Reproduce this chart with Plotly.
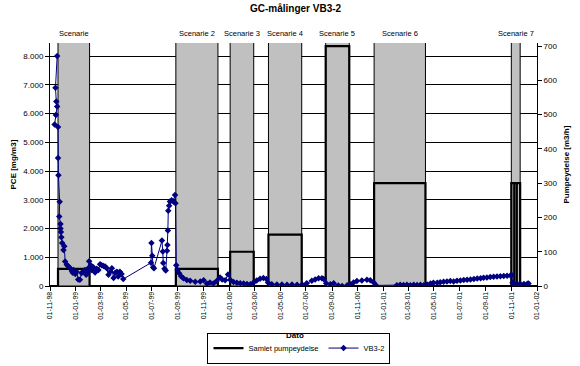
import plotly.graph_objects as go
import pandas as pd

# ---------------- data ----------------
vb_dates = [
    "1998-11-18", "1998-11-14", "1998-11-16", "1998-11-18", "1998-11-15", "1998-11-12",
    "1998-11-20", "1998-11-20", "1998-11-21", "1998-11-24", "1998-11-23", "1998-11-26",
    "1998-11-26", "1998-11-27", "1998-11-28", "1998-11-30", "1998-12-03", "1998-12-05",
    "1998-12-07", "1998-12-11", "1998-12-15", "1998-12-19", "1998-12-23", "1998-12-25",
    "1998-12-27", "1998-12-31", "1999-01-03", "1999-01-07", "1999-01-11", "1999-01-15",
    "1999-01-19", "1999-01-23", "1999-01-26", "1999-01-29", "1999-01-31", "1999-02-02",
    "1999-02-06", "1999-02-08", "1999-02-12", "1999-02-16", "1999-02-20", "1999-02-24",
    "1999-02-28", "1999-03-04", "1999-03-08", "1999-03-12", "1999-03-16", "1999-03-20",
    "1999-03-24", "1999-03-28", "1999-04-01", "1999-04-05", "1999-04-09", "1999-04-12",
    "1999-04-16", "1999-04-20", "1999-04-24",
    "1999-06-29", "1999-06-30", "1999-07-02", "1999-07-04", "1999-07-06",
    "1999-07-25", "1999-07-27", "1999-07-28", "1999-07-31", "1999-08-03", "1999-08-06",
    "1999-08-07", "1999-08-08", "1999-08-09", "1999-08-11", "1999-08-13", "1999-08-17",
    "1999-08-21", "1999-08-25", "1999-08-26", "1999-08-28", "1999-08-31", "1999-09-04",
    "1999-09-09", "1999-09-14", "1999-09-22", "1999-09-30", "1999-10-12", "1999-10-24",
    "1999-11-01", "1999-11-09", "1999-11-16", "1999-11-24", "1999-12-02", "1999-12-10",
    "1999-12-15", "1999-12-22", "1999-12-29", "2000-01-03", "2000-01-11", "2000-01-19",
    "2000-01-27", "2000-02-04", "2000-02-12", "2000-02-20", "2000-02-27", "2000-03-06",
    "2000-03-14", "2000-03-22", "2000-03-29", "2000-04-02", "2000-04-11", "2000-04-23",
    "2000-05-05", "2000-05-17", "2000-05-29", "2000-06-10", "2000-06-22", "2000-07-03",
    "2000-07-15", "2000-07-23", "2000-07-31", "2000-08-08", "2000-08-12", "2000-08-18",
    "2000-08-28", "2000-09-05", "2000-09-16", "2000-09-25", "2000-10-07", "2000-10-14",
    "2000-10-22", "2000-10-30", "2000-11-11", "2000-11-23", "2000-12-01", "2000-12-09",
    "2000-12-15", "2001-02-02", "2001-02-10", "2001-02-18", "2001-02-26", "2001-03-06",
    "2001-03-14", "2001-03-22", "2001-03-30", "2001-04-07", "2001-04-15", "2001-04-23",
    "2001-04-30", "2001-05-09", "2001-05-16", "2001-05-24", "2001-06-01", "2001-06-09",
    "2001-06-17", "2001-06-25", "2001-07-03", "2001-07-11", "2001-07-19", "2001-07-27",
    "2001-08-04", "2001-08-12", "2001-08-20", "2001-08-27", "2001-09-04", "2001-09-12",
    "2001-09-20", "2001-09-28", "2001-10-06", "2001-10-14", "2001-10-22", "2001-10-30",
    "2001-11-02", "2001-11-04", "2001-11-08", "2001-11-15", "2001-11-23", "2001-12-01",
    "2001-12-09", "2001-12-12",
]
vb_values = [
    8000, 6900, 6420, 6250, 5950, 5620,
    5530, 4450, 3850, 2930, 2420, 2160,
    2000, 1880, 1700, 1500, 1250, 1380,
    850, 740, 680, 615, 520, 460,
    560, 420, 500, 230, 220, 450,
    500, 560, 390, 480, 620, 860,
    720, 560, 650, 470, 600, 560,
    760, 720, 700, 680, 620, 390,
    500, 620, 280, 460, 500, 330,
    500, 420, 240,
    810, 1500, 1050, 650, 620,
    1580, 1200, 800, 600, 540, 1230,
    1430, 1930, 2620, 2790, 2940, 2980,
    2940, 3170, 2880, 720, 560, 440,
    330, 270, 210, 180, 150, 160,
    200, 80, 120, 90, 170, 300,
    230, 200, 400, 220, 140, 110,
    100, 90, 70, 60, 110, 190,
    250, 280, 240, 120, 60, 50,
    50, 40, 50, 40, 50, 100,
    180, 230, 270, 270, 240, 100,
    60, 95, 20, 0, 30, 60,
    120, 170, 190, 220, 200, 120,
    20, 30, 40, 35, 40, 30,
    40, 35, 40, 30, 50, 90,
    110, 115, 130, 150, 160, 170,
    160, 185, 190, 210, 215, 230,
    240, 260, 270, 285, 300, 310,
    320, 330, 340, 350, 355, 365,
    380, 110, 80, 70, 65, 70,
    75, 90,
]

scenario_labels = ["Scenarie", "Scenarie 2", "Scenarie 3", "Scenarie 4",
                   "Scenarie 5", "Scenarie 6", "Scenarie 7"]
scenario_start = ["1998-11-20", "1999-08-27", "2000-01-03", "2000-04-03",
                  "2000-08-17", "2000-12-10", "2001-11-01"]
scenario_end = ["1999-02-03", "1999-12-05", "2000-02-28", "2000-06-21",
                "2000-10-12", "2001-04-11", "2001-11-22"]

pump_start = ["1998-11-20", "1999-08-27", "2000-01-03", "2000-04-03",
              "2000-08-17", "2000-12-10", "2001-11-01", "2001-11-08", "2001-11-14"]
pump_end = ["1999-02-03", "1999-12-05", "2000-02-28", "2000-06-21",
            "2000-10-12", "2001-04-11", "2001-11-08", "2001-11-14", "2001-11-22"]
pump_rate = [50, 50, 100, 150, 700, 300, 300, 300, 300]

pce_ticks = [0, 1000, 2000, 3000, 4000, 5000, 6000, 7000, 8000]
pce_ticklabels = ["0", "1.000", "2.000", "3.000", "4.000", "5.000", "6.000", "7.000", "8.000"]
pump_ticks = [0, 100, 200, 300, 400, 500, 600, 700]
date_ticks = ["1998-11-01", "1999-01-01", "1999-03-01", "1999-05-01", "1999-07-01",
              "1999-09-01", "1999-11-01", "2000-01-01", "2000-03-01", "2000-05-01",
              "2000-07-01", "2000-09-01", "2000-11-01", "2001-01-01", "2001-03-01",
              "2001-05-01", "2001-07-01", "2001-09-01", "2001-11-01", "2002-01-01"]
date_ticklabels = ["01-11-98", "01-01-99", "01-03-99", "01-05-99", "01-07-99",
                   "01-09-99", "01-11-99", "01-01-00", "01-03-00", "01-05-00",
                   "01-07-00", "01-09-00", "01-11-00", "01-01-01", "01-03-01",
                   "01-05-01", "01-07-01", "01-09-01", "01-11-01", "01-01-02"]

# ---------------- styling / layout constants ----------------
FONT = "Arial, 'Liberation Sans', sans-serif"
X_RANGE = ["1998-11-01", "2002-01-01"]
PUMP_MAX = 709
PCE_MAX = 8456
GRAY = "#C0C0C0"
NAVY = "#000080"

fig = go.Figure()

# gray scenario bands (on pump axis, extend past top so they are clipped)
band_top = PUMP_MAX * 1.2
for s, e in zip(scenario_start, scenario_end):
    fig.add_trace(go.Scatter(
        x=[s, s, e, e, s], y=[0, band_top, band_top, 0, 0],
        mode="lines", fill="toself", fillcolor=GRAY,
        line=dict(color="black", width=1), yaxis="y",
        showlegend=False, hoverinfo="skip"))

# step line for total pump output
px, py = [X_RANGE[0]], [0]
for s, e, r in zip(pump_start, pump_end, pump_rate):
    px += [s, s, e, e]
    py += [0, r, r, 0]
px.append(X_RANGE[1])
py.append(0)
fig.add_trace(go.Scatter(
    x=px, y=py, mode="lines", name="Samlet pumpeydelse",
    line=dict(color="black", width=2.2), yaxis="y"))

fig.add_trace(go.Scatter(
    x=vb_dates, y=vb_values, mode="lines+markers", name="VB3-2",
    line=dict(color=NAVY, width=1),
    marker=dict(symbol="diamond", size=5, color=NAVY), yaxis="y2"))

# scenario labels
annotations = []
for lab, s, e in zip(scenario_labels, scenario_start, scenario_end):
    ts, te = pd.Timestamp(s), pd.Timestamp(e)
    mid = ts + (te - ts) / 2
    annotations.append(dict(
        x=mid.strftime("%Y-%m-%d %H:%M"), xref="x", y=1.041, yref="paper",
        text=lab, showarrow=False, font=dict(family=FONT, size=7.5, color="black"),
        xanchor="center", yanchor="middle"))

annotations += [
    dict(x=0.505, y=1.142, xref="paper", yref="paper", text="<b>GC-målinger VB3-2</b>",
         showarrow=False, font=dict(family=FONT, size=10, color="black"),
         xanchor="center", yanchor="middle"),
    dict(x=-0.074, y=0.5, xref="paper", yref="paper", text="<b>PCE [mg/m3]</b>",
         textangle=-90, showarrow=False, font=dict(family=FONT, size=8, color="black"),
         xanchor="center", yanchor="middle"),
    dict(x=1.0616, y=0.5, xref="paper", yref="paper", text="<b>Pumpeydelse [m3/h]</b>",
         textangle=-90, showarrow=False, font=dict(family=FONT, size=8, color="black"),
         xanchor="center", yanchor="middle"),
    dict(x=0.503, y=-0.202, xref="paper", yref="paper", text="<b>Dato</b>",
         showarrow=False, font=dict(family=FONT, size=8, color="black"),
         xanchor="center", yanchor="middle"),
]

fig.update_layout(
    width=580, height=366,
    margin=dict(l=50, r=43, t=43, b=80, pad=0, autoexpand=False),
    paper_bgcolor="white", plot_bgcolor="white",
    font=dict(family=FONT, size=8, color="black"),
    showlegend=True,
    legend=dict(orientation="h", xref="container", yref="container",
                x=0.5155, y=0.049, xanchor="center", yanchor="middle",
                bordercolor="black", borderwidth=1, bgcolor="white",
                font=dict(family=FONT, size=7.5, color="black"),
                itemwidth=30, tracegroupgap=0),
    annotations=annotations,
    xaxis=dict(type="date", range=X_RANGE, tickmode="array", tickvals=date_ticks,
               ticktext=date_ticklabels, tickangle=-90, ticks="outside", ticklen=4,
               tickcolor="black", showline=True, linecolor="black", linewidth=1,
               showgrid=False, zeroline=False, automargin=False,
               ticklabelstandoff=-2,
               tickfont=dict(family=FONT, size=7)),
    yaxis=dict(range=[0, PUMP_MAX], side="right", tickmode="array", tickvals=pump_ticks,
               ticks="outside", ticklen=4, tickcolor="black", showline=True,
               linecolor="black", linewidth=1, showgrid=False, zeroline=False,
               automargin=False, tickfont=dict(family=FONT, size=8)),
    yaxis2=dict(range=[0, PCE_MAX], side="left", overlaying="y", tickmode="array",
                tickvals=pce_ticks, ticktext=pce_ticklabels, ticks="outside", ticklen=4,
                tickcolor="black", showline=True, linecolor="black", linewidth=1,
                showgrid=True, gridcolor="black", gridwidth=1, zeroline=False,
                automargin=False, tickfont=dict(family=FONT, size=8)),
)

fig.write_html("out.html", config={"displayModeBar": False},
               post_script="document.body.style.margin='0';document.body.style.overflow='hidden';")
